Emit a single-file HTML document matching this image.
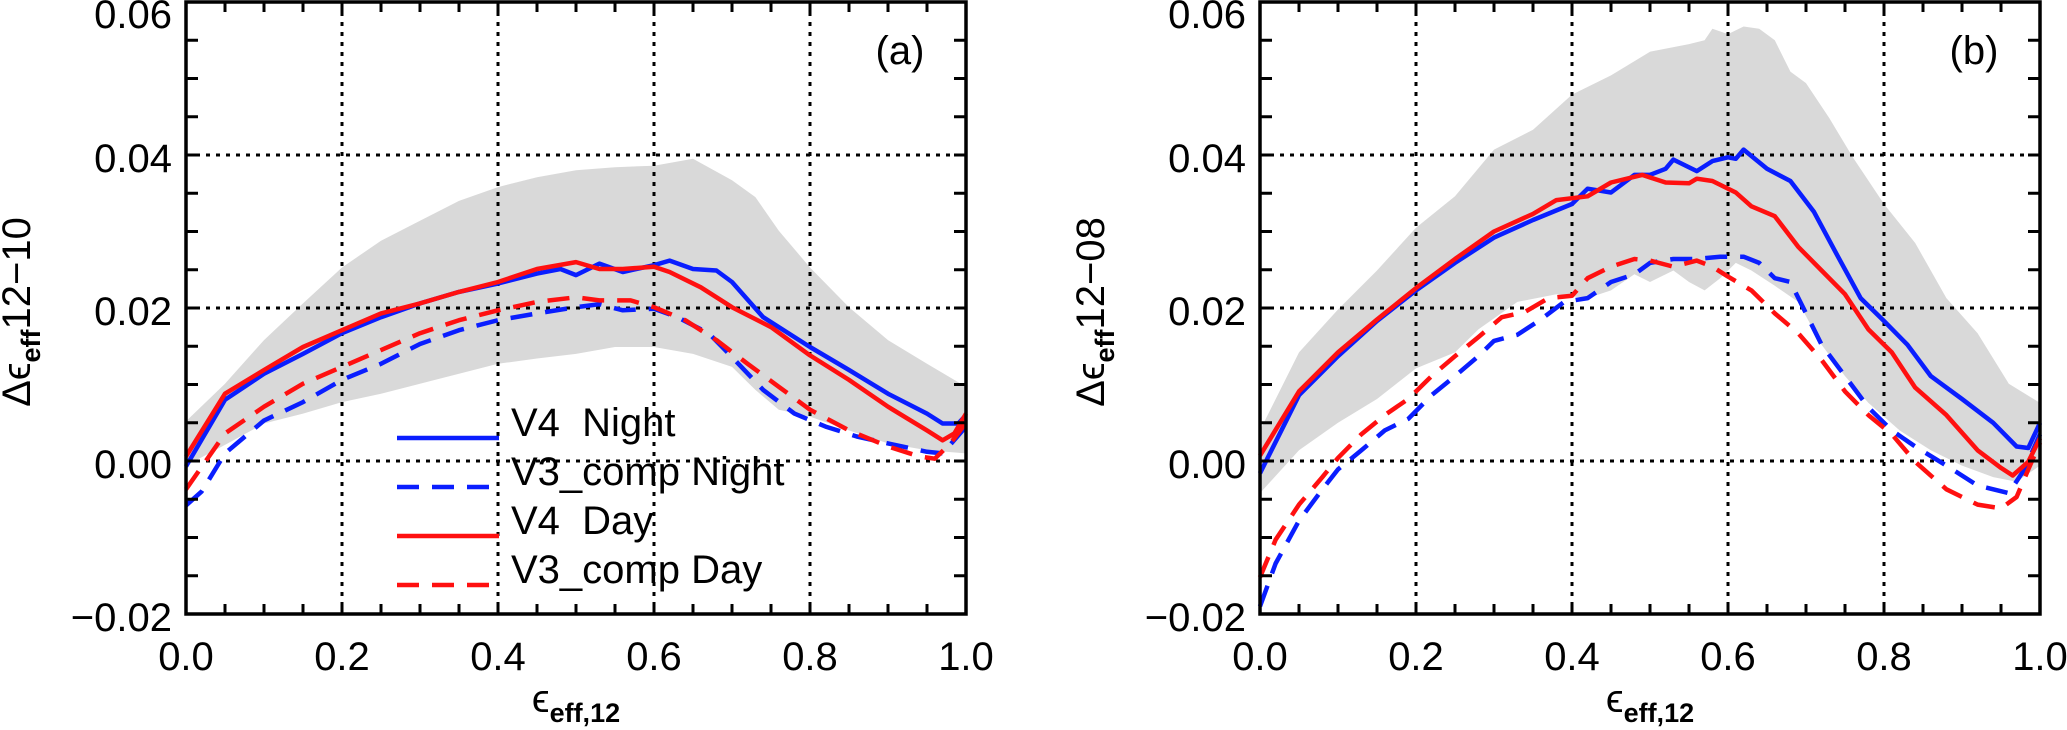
<!DOCTYPE html>
<html><head><meta charset="utf-8"><style>
html,body{margin:0;padding:0;background:#fff;}
svg{display:block;font-family:"Liberation Sans",sans-serif;}
</style></head><body>
<svg id="chart" width="2067" height="730" viewBox="0 0 2067 730" xmlns="http://www.w3.org/2000/svg"></svg>
<script>
const xTicks=[0,0.2,0.4,0.6,0.8,1.0];
const xTickLabels=["0.0","0.2","0.4","0.6","0.8","1.0"];
const yTicks=[-0.02,0,0.02,0.04,0.06];
const yTickLabels=["\u22120.02","0.00","0.02","0.04","0.06"];

// Panel (a)
const aV4NightX=[0,0.05,0.1,0.15,0.2,0.25,0.3,0.35,0.4,0.45,0.48,0.5,0.53,0.56,0.6,0.62,0.65,0.68,0.7,0.74,0.8,0.85,0.9,0.95,0.97,0.99,1.0];
const aV4NightY=[-0.0007,0.008,0.0114,0.014,0.0167,0.0188,0.0206,0.0221,0.0232,0.0245,0.0251,0.0243,0.0258,0.0247,0.0256,0.0262,0.0251,0.0249,0.0234,0.0188,0.0149,0.0119,0.0088,0.0062,0.0049,0.0049,0.006];
const aV4DayX=[0,0.05,0.1,0.15,0.2,0.25,0.3,0.35,0.4,0.45,0.5,0.53,0.56,0.6,0.62,0.66,0.7,0.75,0.8,0.85,0.9,0.95,0.97,0.985,1.0];
const aV4DayY=[0.0006,0.0088,0.0119,0.0149,0.0171,0.0193,0.0206,0.0221,0.0234,0.0251,0.026,0.0251,0.0251,0.0254,0.0247,0.0227,0.0201,0.0175,0.0138,0.0106,0.0071,0.004,0.0027,0.0036,0.0062];
const aV3NightX=[0,0.02,0.05,0.1,0.15,0.2,0.25,0.3,0.35,0.4,0.45,0.5,0.53,0.56,0.6,0.63,0.67,0.7,0.74,0.78,0.82,0.86,0.9,0.95,0.97,1.0];
const aV3NightY=[-0.0058,-0.004,0.001,0.0053,0.0077,0.0106,0.0127,0.0153,0.0171,0.0184,0.0193,0.0201,0.0205,0.0197,0.0199,0.0188,0.0167,0.0136,0.0093,0.0062,0.0045,0.0032,0.0023,0.0012,0.001,0.0045];
const aV3DayX=[0,0.05,0.1,0.15,0.2,0.25,0.3,0.35,0.4,0.45,0.5,0.53,0.57,0.6,0.64,0.68,0.72,0.76,0.8,0.85,0.9,0.94,0.96,0.98,1.0];
const aV3DayY=[-0.0037,0.0036,0.0071,0.0101,0.0123,0.0145,0.0167,0.0184,0.0197,0.0208,0.0214,0.021,0.021,0.0201,0.0184,0.0158,0.0127,0.0097,0.0067,0.004,0.0019,0.0006,0.0003,0.0023,0.005];
const aBandX=[0,0.05,0.1,0.15,0.2,0.25,0.3,0.35,0.4,0.45,0.5,0.55,0.6,0.65,0.7,0.73,0.76,0.8,0.85,0.9,0.95,1.0];
const aBandHi=[0.0052,0.0101,0.0158,0.0206,0.0253,0.0288,0.0314,0.034,0.0358,0.0371,0.038,0.0384,0.0386,0.0395,0.0367,0.0345,0.0301,0.0253,0.0201,0.0158,0.0127,0.0097];
const aBandLo=[-0.0006,0.0021,0.0049,0.0062,0.0077,0.0088,0.0101,0.0114,0.0127,0.0134,0.014,0.0149,0.0149,0.014,0.0123,0.0093,0.0067,0.0058,0.004,0.0023,0.0014,0.001];

// Panel (b)
const bV4NightX=[0,0.05,0.1,0.15,0.2,0.25,0.3,0.35,0.4,0.42,0.45,0.48,0.5,0.52,0.53,0.56,0.58,0.6,0.61,0.62,0.65,0.68,0.71,0.74,0.77,0.8,0.83,0.86,0.9,0.94,0.97,0.985,1.0];
const bV4NightY=[-0.0016,0.0086,0.0137,0.0183,0.0223,0.0259,0.0292,0.0315,0.0336,0.0356,0.0351,0.0374,0.0374,0.0382,0.0394,0.0379,0.0392,0.0397,0.0395,0.0407,0.0382,0.0366,0.0326,0.0269,0.0213,0.0183,0.0152,0.0111,0.0081,0.005,0.0019,0.0017,0.005];
const bV4DayX=[0,0.05,0.1,0.15,0.2,0.25,0.3,0.35,0.38,0.42,0.45,0.49,0.52,0.55,0.56,0.58,0.61,0.63,0.66,0.69,0.72,0.75,0.78,0.81,0.84,0.88,0.92,0.95,0.965,0.985,1.0];
const bV4DayY=[0.0007,0.0091,0.0142,0.0185,0.0226,0.0264,0.03,0.0323,0.0341,0.0346,0.0364,0.0374,0.0364,0.0363,0.0369,0.0366,0.0351,0.0333,0.032,0.028,0.0249,0.0218,0.0172,0.0142,0.0096,0.006,0.0014,-0.0009,-0.0019,-0.0001,0.003];
const bV3NightX=[0,0.02,0.05,0.08,0.1,0.13,0.16,0.19,0.22,0.25,0.28,0.3,0.33,0.36,0.39,0.42,0.45,0.48,0.5,0.53,0.56,0.59,0.62,0.64,0.66,0.68,0.7,0.72,0.75,0.78,0.81,0.84,0.88,0.92,0.96,0.98,1.0];
const bV3NightY=[-0.019,-0.0134,-0.0078,-0.0037,-0.0011,0.0014,0.004,0.0055,0.0086,0.0111,0.0137,0.0157,0.0165,0.0185,0.0208,0.0213,0.0234,0.0244,0.0259,0.0264,0.0264,0.0267,0.0267,0.0259,0.0239,0.0234,0.0193,0.0152,0.0111,0.007,0.004,0.0019,-0.0006,-0.0032,-0.0042,-0.0011,0.0035];
const bV3DayX=[0,0.02,0.05,0.08,0.1,0.13,0.16,0.19,0.22,0.25,0.28,0.31,0.34,0.37,0.4,0.42,0.45,0.48,0.5,0.53,0.56,0.58,0.6,0.63,0.66,0.69,0.72,0.75,0.78,0.81,0.84,0.88,0.92,0.95,0.97,0.985,1.0];
const bV3DayY=[-0.0152,-0.0103,-0.0057,-0.0021,0.0004,0.0035,0.006,0.0081,0.0111,0.0137,0.0162,0.0188,0.0195,0.0213,0.0216,0.0239,0.0254,0.0264,0.0262,0.0254,0.0262,0.0254,0.0241,0.0223,0.0193,0.0167,0.0132,0.0091,0.006,0.0035,-0.0001,-0.0037,-0.0057,-0.0062,-0.0047,-0.0011,0.0024];
const bBandX=[0,0.05,0.1,0.15,0.2,0.25,0.3,0.35,0.4,0.45,0.5,0.55,0.57,0.58,0.6,0.62,0.64,0.66,0.68,0.7,0.73,0.76,0.8,0.84,0.88,0.92,0.96,1.0];
const bBandHi=[0.004,0.0142,0.0198,0.0249,0.0305,0.0346,0.0407,0.0433,0.0479,0.0504,0.0535,0.0545,0.055,0.0565,0.0558,0.0568,0.0565,0.055,0.0509,0.0494,0.0448,0.0397,0.0336,0.0285,0.0213,0.0167,0.0101,0.0076];
const bBandLoX=[0,0.05,0.1,0.15,0.2,0.25,0.28,0.33,0.38,0.42,0.45,0.48,0.5,0.53,0.55,0.57,0.59,0.61,0.63,0.66,0.69,0.72,0.75,0.78,0.82,0.86,0.9,0.94,0.97,1.0];
const bBandLo=[-0.0042,0.0014,0.005,0.0081,0.0121,0.0142,0.0172,0.0208,0.0218,0.0213,0.0223,0.0244,0.0234,0.0249,0.0234,0.0223,0.0239,0.0259,0.0249,0.0229,0.0208,0.0152,0.0111,0.0076,0.004,0.0014,-0.0006,-0.0021,-0.0027,-0.0006];

const NS="http://www.w3.org/2000/svg";
const svg=document.getElementById('chart');
function mk(tag,attrs,parent){const e=document.createElementNS(NS,tag);for(const k in attrs)e.setAttribute(k,attrs[k]);(parent||svg).appendChild(e);return e;}

const Y0=2,Y1=614;
function panel(cfg){
  const L=cfg.left,R=cfg.left+780;
  const sx=v=>L+v*(R-L);
  const sy=v=>Y1-(v+0.02)/0.08*(Y1-Y0);
  const g=mk('g',{});
  
  
  let d='';
  cfg.bx.forEach((x,i)=>{d+=(i?'L':'M')+sx(x).toFixed(1)+','+sy(cfg.bhi[i]).toFixed(1);});
  for(let i=cfg.blx.length-1;i>=0;i--){d+='L'+sx(cfg.blx[i]).toFixed(1)+','+sy(cfg.blo[i]).toFixed(1);}
  const band=mk('path',{d:d+'Z',fill:'#d9d9d9',stroke:'none'},g);
  
  
  [0.2,0.4,0.6,0.8].forEach(v=>{const l=mk('line',{x1:sx(v),x2:sx(v),y1:Y0,y2:Y1,stroke:'#000','stroke-width':3,'stroke-dasharray':'4 6'},g);
    
    });
  [0,0.02,0.04].forEach(v=>{const l=mk('line',{x1:L,x2:R,y1:sy(v),y2:sy(v),stroke:'#000','stroke-width':3,'stroke-dasharray':'4 6'},g);
    
    });
  cfg.series.forEach(s=>{
    let p='';s.x.forEach((x,i)=>{p+=(i?'L':'M')+sx(x).toFixed(1)+','+sy(s.y[i]).toFixed(1);});
    const e=mk('path',{d:p,fill:'none',stroke:s.c,'stroke-width':4.5,'stroke-linejoin':'round','stroke-dasharray':s.dash?'22 13':'none'},g);
    
    
  });
  for(let k=0;k<=20;k++){const v=k*0.05,x=sx(v);
    mk('line',{x1:x,x2:x,y1:Y1,y2:Y1-10,stroke:'#000','stroke-width':3},g);
    mk('line',{x1:x,x2:x,y1:Y0,y2:Y0+10,stroke:'#000','stroke-width':3},g);}
  for(let k=0;k<=16;k++){const v=-0.02+k*0.005,y=sy(v);
    mk('line',{x1:L,x2:L+12,y1:y,y2:y,stroke:'#000','stroke-width':3},g);
    mk('line',{x1:R,x2:R-12,y1:y,y2:y,stroke:'#000','stroke-width':3},g);}
  const fr=mk('rect',{x:L,y:Y0,width:R-L,height:Y1-Y0,fill:'none',stroke:'#000','stroke-width':3.5},g);
  
  
  xTicks.forEach((v,i)=>{const t=mk('text',{x:sx(v),y:670,'font-size':40,'text-anchor':'middle'},g);t.textContent=xTickLabels[i];
    
    });
  yTicks.forEach((v,i)=>{const t=mk('text',{x:L-14,y:Math.max(sy(v)+17,28),'font-size':40,'text-anchor':'end'},g);t.textContent=yTickLabels[i];
    
    });
  const xt=mk('text',{x:L+390,y:712,'font-size':40,'text-anchor':'middle'},g);
  xt.innerHTML='\u03f5<tspan font-size="27" font-weight="bold" dy="10">eff,12</tspan>';
  
  
  const yt=mk('text',{x:0,y:0,'font-size':40,'text-anchor':'middle',transform:`translate(${L-156},312) rotate(-90)`},g);
  yt.innerHTML='\u0394\u03f5<tspan font-size="27" font-weight="bold" dy="10">eff</tspan><tspan dy="-10">12\u2212'+cfg.ylab+'</tspan>';
  
  
  const pl=mk('text',{x:R-66,y:64,'font-size':40,'text-anchor':'middle'},g);
  pl.textContent=cfg.tag;
  
  
  return g;
}
panel({name:'panel-a',left:186,ylab:'10',tag:'(a)',bx:aBandX,bhi:aBandHi,blx:aBandX,blo:aBandLo,series:[
  {name:'v3-comp-night-line',x:aV3NightX,y:aV3NightY,c:'#0a1eff',dash:true},
  {name:'v3-comp-day-line',x:aV3DayX,y:aV3DayY,c:'#ff1010',dash:true},
  {name:'v4-night-line',x:aV4NightX,y:aV4NightY,c:'#0a1eff',dash:false},
  {name:'v4-day-line',x:aV4DayX,y:aV4DayY,c:'#ff1010',dash:false}]});
panel({name:'panel-b',left:1260,ylab:'08',tag:'(b)',bx:bBandX,bhi:bBandHi,blx:bBandLoX,blo:bBandLo,series:[
  {name:'v3-comp-night-line',x:bV3NightX,y:bV3NightY,c:'#0a1eff',dash:true},
  {name:'v3-comp-day-line',x:bV3DayX,y:bV3DayY,c:'#ff1010',dash:true},
  {name:'v4-night-line',x:bV4NightX,y:bV4NightY,c:'#0a1eff',dash:false},
  {name:'v4-day-line',x:bV4DayX,y:bV4DayY,c:'#ff1010',dash:false}]});

const legendLabels=["V4  Night","V3_comp Night","V4  Day","V3_comp Day"];
const legendColors=["#0a1eff","#0a1eff","#ff1010","#ff1010"];
const legendDash=[false,true,false,true];
const lg=mk('g',{});


legendLabels.forEach((lab,i)=>{
  const y=438+i*49;
  const ln=mk('line',{x1:397,x2:499,y1:y,y2:y,stroke:legendColors[i],'stroke-width':4.5,'stroke-dasharray':legendDash[i]?'22 13':'none'},lg);
  
  
  const t=mk('text',{x:511,y:y-2,'font-size':40},lg);
  t.setAttribute('style','white-space:pre');
  t.textContent=lab;
  
  
});
</script>
</body></html>
